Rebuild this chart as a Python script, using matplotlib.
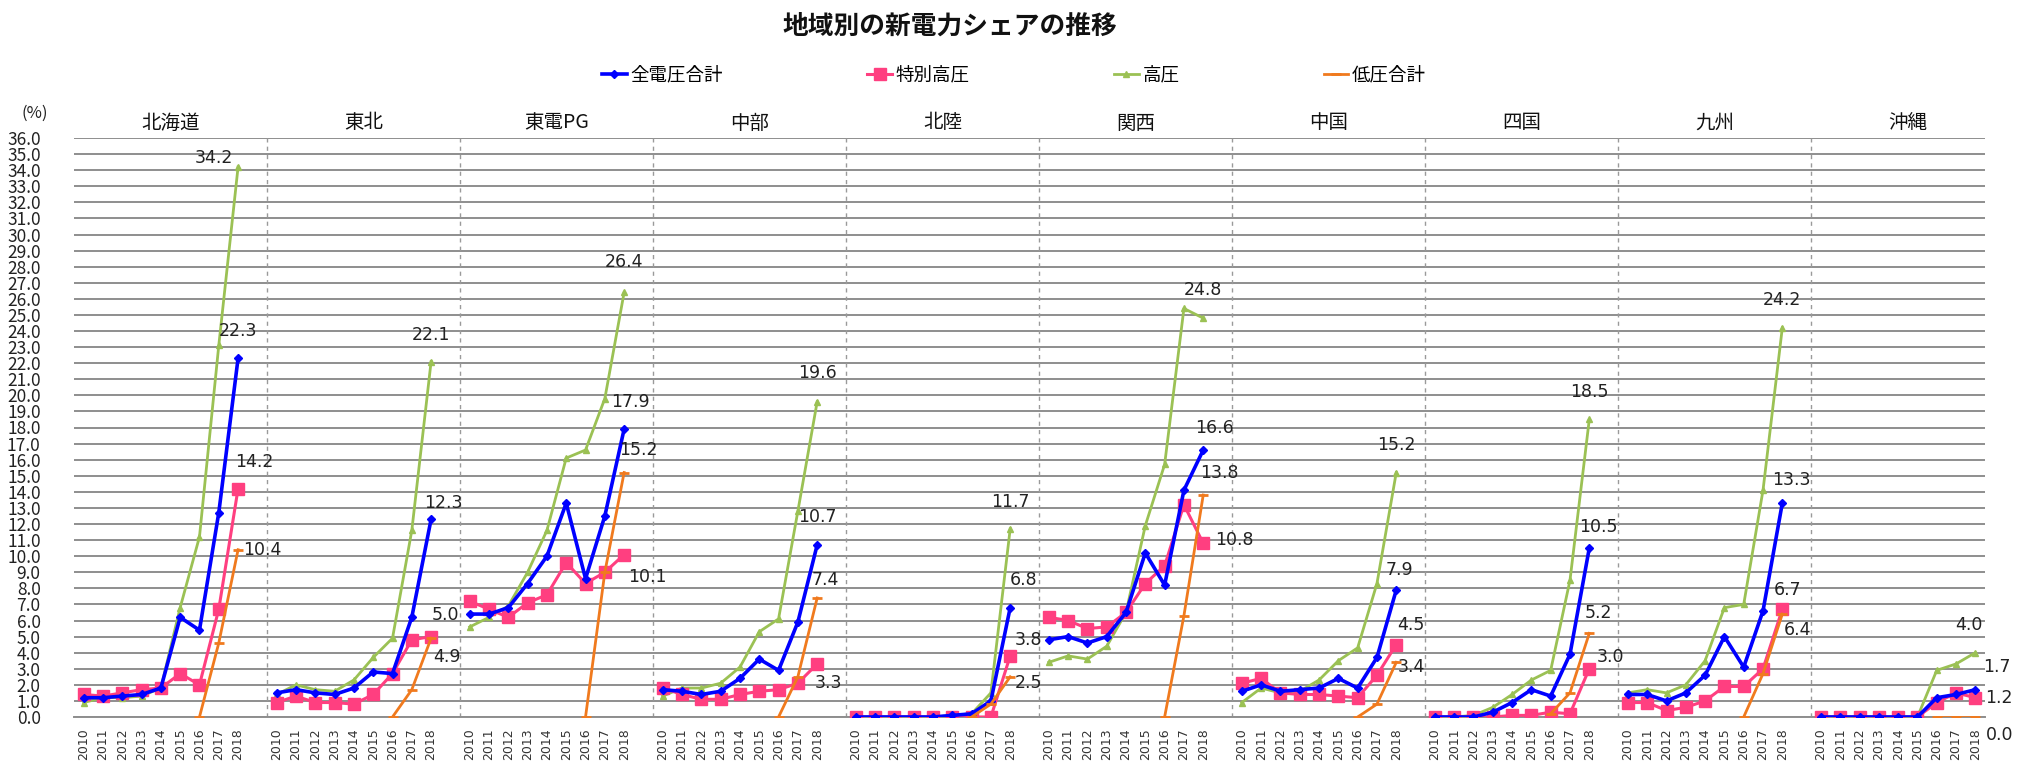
import numpy as np
import matplotlib
matplotlib.use("Agg")
import matplotlib.pyplot as plt
from matplotlib.lines import Line2D
from matplotlib import transforms

plt.rcParams['font.family'] = ['Noto Sans CJK JP', 'DejaVu Sans']

# ---- data -------------------------------------------------------------
years = ['2010', '2011', '2012', '2013', '2014', '2015', '2016', '2017', '2018']
regions = ['北海道', '東北', '東電PG', '中部', '北陸', '関西', '中国', '四国', '九州', '沖縄']
series_names = ['全電圧合計', '特別高圧', '高圧', '低圧合計']

# share of new retailers (%), one row per region, 2010-2018
all_voltage = [
    [1.2, 1.2, 1.3, 1.4, 1.8, 6.2, 5.4, 12.7, 22.3],
    [1.5, 1.7, 1.5, 1.4, 1.8, 2.8, 2.7, 6.2, 12.3],
    [6.4, 6.4, 6.8, 8.3, 10.0, 13.3, 8.6, 12.5, 17.9],
    [1.7, 1.6, 1.4, 1.6, 2.4, 3.6, 2.9, 5.9, 10.7],
    [0.0, 0.0, 0.0, 0.0, 0.0, 0.1, 0.2, 1.0, 6.8],
    [4.8, 5.0, 4.6, 5.0, 6.5, 10.2, 8.2, 14.1, 16.6],
    [1.6, 2.0, 1.6, 1.7, 1.8, 2.4, 1.8, 3.7, 7.9],
    [0.0, 0.0, 0.0, 0.3, 0.9, 1.7, 1.3, 3.9, 10.5],
    [1.4, 1.4, 1.0, 1.5, 2.6, 5.0, 3.1, 6.6, 13.3],
    [0.0, 0.0, 0.0, 0.0, 0.0, 0.0, 1.2, 1.4, 1.7],
]
extra_high = [
    [1.4, 1.3, 1.5, 1.7, 1.8, 2.7, 2.0, 6.7, 14.2],
    [0.9, 1.3, 0.9, 0.9, 0.8, 1.4, 2.7, 4.8, 5.0],
    [7.2, 6.7, 6.2, 7.1, 7.6, 9.6, 8.3, 9.0, 10.1],
    [1.8, 1.4, 1.1, 1.1, 1.4, 1.6, 1.7, 2.1, 3.3],
    [0.0, 0.0, 0.0, 0.0, 0.0, 0.0, 0.0, 0.0, 3.8],
    [6.2, 6.0, 5.5, 5.6, 6.5, 8.3, 9.4, 13.2, 10.8],
    [2.1, 2.4, 1.5, 1.4, 1.4, 1.3, 1.2, 2.6, 4.5],
    [0.0, 0.0, 0.0, 0.0, 0.1, 0.1, 0.3, 0.2, 3.0],
    [0.9, 0.9, 0.4, 0.6, 1.0, 1.9, 1.9, 3.0, 6.7],
    [0.0, 0.0, 0.0, 0.0, 0.0, 0.0, 0.9, 1.5, 1.2],
]
high = [
    [0.9, 1.2, 1.2, 1.3, 1.8, 6.8, 11.2, 23.1, 34.2],
    [1.4, 2.0, 1.7, 1.6, 2.3, 3.7, 4.9, 11.6, 22.1],
    [5.6, 6.2, 6.9, 9.0, 11.6, 16.1, 16.6, 19.8, 26.4],
    [1.3, 1.8, 1.8, 2.1, 3.1, 5.3, 6.1, 12.8, 19.6],
    [0.0, 0.0, 0.0, 0.0, 0.0, 0.1, 0.2, 1.5, 11.7],
    [3.4, 3.8, 3.6, 4.4, 6.5, 11.9, 15.7, 25.4, 24.8],
    [0.9, 1.8, 1.5, 1.6, 2.3, 3.5, 4.3, 8.3, 15.2],
    [0.0, 0.0, 0.1, 0.6, 1.4, 2.3, 2.9, 8.5, 18.5],
    [1.5, 1.7, 1.5, 2.0, 3.5, 6.8, 7.0, 14.1, 24.2],
    [0.0, 0.0, 0.0, 0.0, 0.0, 0.0, 2.9, 3.3, 4.0],
]
# low voltage only from 2016 onward
low_years = ['2016', '2017', '2018']
low_voltage = [
    [0.0, 4.6, 10.4],
    [0.0, 1.7, 4.9],
    [0.0, 9.0, 15.2],
    [0.0, 2.5, 7.4],
    [0.0, 0.8, 2.5],
    [0.0, 6.3, 13.8],
    [0.0, 0.8, 3.4],
    [0.2, 1.5, 5.2],
    [0.0, 2.7, 6.4],
    [0.0, 0.0, 0.0],
]

# ---- styling ----------------------------------------------------------
styles = [
    dict(color='#0000FF', lw=2.6, marker='D', ms=4.5, zorder=5),
    dict(color='#FF3F80', lw=2.2, marker='s', ms=8.5, zorder=4),
    dict(color='#9BC154', lw=2.0, marker='^', ms=5, zorder=3),
    dict(color='#F07A1E', lw=2.0, marker='_', ms=7, mew=2, zorder=6),
]

# where the 2018 value labels sit relative to their points (pixels)
label_offsets = [
    [(0, 27), (12, 16), (6, 27), (0, 28), (13, 28), (11, 22), (3, 20), (9, 21), (9, 23), (22, 23)],
    [(16, 27), (14, 22), (23, -22), (11, -19), (18, 16), (31, 3), (15, 20), (21, 12), (5, 19), (24, 0)],
    [(-24, 9), (0, 27), (0, 30), (0, 29), (0, 27), (0, 28), (0, 28), (0, 27), (0, 28), (-6, 28)],
    [(24, 0), (16, -19), (14, 23), (8, 18), (18, -6), (16, 22), (15, -5), (9, 20), (15, -16), (24, -18)],
]

W, H = 2018, 763
fig = plt.figure(figsize=(W / 100, H / 100), dpi=100)
ax = fig.add_axes([74 / W, 1 - 717 / H, (1985 - 74) / W, (717 - 138) / H])

n_years = len(years)
data_sets = [all_voltage, extra_high, high]
for k in range(len(regions)):
    xs = 10 * k + np.arange(n_years)
    for s, values in enumerate(data_sets):
        ax.plot(xs, values[k], **styles[s])
    lx = 10 * k + np.array([years.index(y) for y in low_years])
    ax.plot(lx, low_voltage[k], **styles[3])

    # value labels for the latest year
    last_vals = [all_voltage[k][-1], extra_high[k][-1], high[k][-1], low_voltage[k][-1]]
    last_x = [xs[-1], xs[-1], xs[-1], lx[-1]]
    for s in range(4):
        dx, dy = label_offsets[s][k]
        ax.annotate(f'{last_vals[s]:.1f}', (last_x[s], last_vals[s]),
                    xytext=(dx, dy), textcoords='offset pixels',
                    ha='center', va='center', fontsize=12.5,
                    family='DejaVu Sans', color='#222222', zorder=10)

# axes limits, grid and separators
ax.set_xlim(-0.5, 98.5)
ax.set_ylim(0, 36)
ax.set_yticks(np.arange(0, 37, 1))
ax.set_yticklabels([f'{v:.1f}' for v in range(0, 37)], fontsize=12.5,
                   color='#222222')
ax.tick_params(axis='y', length=0, pad=24)
ax.yaxis.grid(True, color='#8e8e8e', lw=1.4)
ax.set_axisbelow(True)

xt = [10 * k + i for k in range(len(regions)) for i in range(n_years)]
ax.set_xticks(xt)
ax.set_xticklabels(years * len(regions), rotation=90, fontsize=9,
                   family='DejaVu Sans', color='#333333')
ax.tick_params(axis='x', length=0, pad=8)

for k in range(1, len(regions)):
    ax.axvline(10 * k - 0.5, color='#9a9a9a', lw=1.0, ls=(0, (3, 3)), zorder=1)

for sp in ['top', 'right', 'left']:
    ax.spines[sp].set_visible(False)
ax.spines['bottom'].set_color('#8e8e8e')
ax.spines['bottom'].set_linewidth(1.4)

# region names above each block
trans = transforms.blended_transform_factory(ax.transData, fig.transFigure)
for k, name in enumerate(regions):
    ax.text(10 * k + 4.5, 1 - 123 / H, name, transform=trans, ha='center',
            va='center', fontsize=14, color='#111111')

fig.text(35 / W, 1 - 113 / H, '(%)', ha='center', va='center', fontsize=12,
         color='#222222')
fig.text(950 / W, 1 - 26 / H, '地域別の新電力シェアの推移', ha='center',
         va='center', fontsize=18.5, fontweight='bold', color='#111111')

handles = [Line2D([], [], **{k: v for k, v in st.items() if k != 'zorder'})
           for st in styles]
fig.legend(handles, series_names, loc='center', ncol=4,
           bbox_to_anchor=(1014 / W, 1 - 75 / H), frameon=False,
           fontsize=13.3, handlelength=1.35, handletextpad=0.2,
           columnspacing=7.8, borderpad=0, borderaxespad=0)

fig.savefig('out.png', dpi=100, facecolor='white')
